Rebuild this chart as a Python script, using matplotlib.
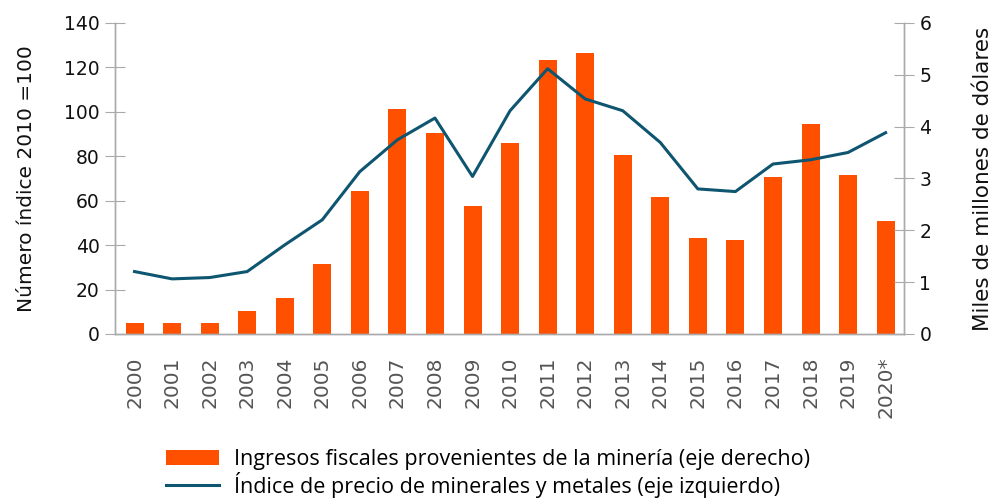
import matplotlib.pyplot as plt
import numpy as np

years = ['2000', '2001', '2002', '2003', '2004', '2005', '2006', '2007', '2008', '2009', '2010',
         '2011', '2012', '2013', '2014', '2015', '2016', '2017', '2018', '2019', '2020*']

# ingresos fiscales (miles de millones de dolares) -> eje derecho
ingresos = [0.21, 0.21, 0.21, 0.45, 0.69, 1.35, 2.75, 4.34, 3.87, 2.46, 3.69,
            5.28, 5.42, 3.45, 2.65, 1.86, 1.81, 3.02, 4.05, 3.07, 2.18]

# indice de precios 2010=100 -> eje izquierdo
indice = [28.1, 24.8, 25.4, 28.1, 40.1, 51.4, 73.1, 87.4, 97.2, 70.9, 100.5,
          119.4, 105.8, 100.5, 86.2, 65.3, 64.1, 76.5, 78.4, 81.7, 90.6]

orange = '#FF5000'
blue = '#0E5570'
grey = '#AAAAAA'

fig = plt.figure(figsize=(9.93, 4.99), dpi=100)
ax = fig.add_axes([0.1158, 0.3307, 0.7946, 0.6233])
ax2 = ax.twinx()

x = np.arange(len(years))

# bars go on the right axis, but drawn behind the line
bars = ax2.bar(x, ingresos, width=0.48, color=orange, zorder=1,
               label='Ingresos fiscales provenientes de la minería (eje derecho)')
ax2.set_ylim(0, 6)
ax2.set_yticks(range(0, 7))

ax.plot(x, indice, color=blue, lw=2.2, zorder=3,
        label='Índice de precio de minerales y metales (eje izquierdo)')
ax.set_ylim(0, 140)
ax.set_yticks(range(0, 141, 20))
ax.set_xlim(-0.52, 20.49)
ax.set_zorder(ax2.get_zorder() + 1)
ax.patch.set_visible(False)

ax.set_xticks(x)
ax.set_xticklabels(years, rotation=90, fontsize=14.5, color='#555555')
ax.tick_params(axis='x', length=0, pad=16)

for a in (ax, ax2):
    a.spines['top'].set_visible(False)
    for s in ('left', 'right', 'bottom'):
        a.spines[s].set_color(grey)
        a.spines[s].set_linewidth(1.0)

ax.tick_params(axis='y', direction='inout', length=14, color=grey, labelsize=13.5,
               labelcolor='#111111', pad=4)
ax2.tick_params(axis='y', direction='inout', length=14, color=grey, labelsize=13.5,
                labelcolor='#111111', pad=4)

ax.set_ylabel('Número índice 2010 =100', fontsize=14.5, color='#111111', labelpad=20)
ax2.set_ylabel('Miles de millones de dólares', fontsize=15.5, color='#111111', labelpad=30)

handles = [bars, ax.get_lines()[0]]
labels = [h.get_label() for h in handles]
fig.legend(handles, labels, loc='upper left', bbox_to_anchor=(0.158, 0.118),
           frameon=False, prop={'family': 'Open Sans', 'size': 15.5},
           handlelength=2.5, handletextpad=0.7, labelspacing=0.1, borderaxespad=0)

fig.savefig('out.png', dpi=100)
